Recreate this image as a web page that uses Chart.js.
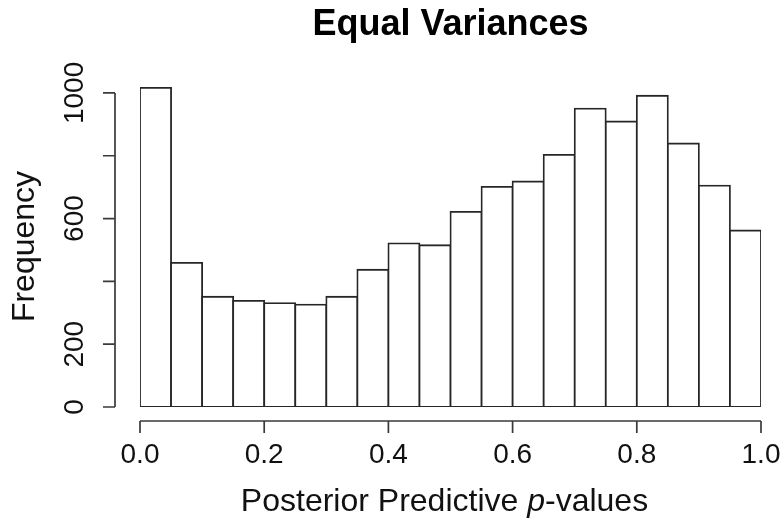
<!DOCTYPE html>
<html><head><meta charset="utf-8">
<script src="https://cdn.jsdelivr.net/npm/chart.js@4/dist/chart.umd.min.js"></script>
<style>html,body{margin:0;padding:0;background:#fff}#wrap{width:783px;height:520px}</style>
</head><body><div id="wrap"><canvas id="c" width="783" height="520"></canvas></div>
<script>
// ---- data ----
const chartTitle = 'Equal Variances';
const binCenters = [0.025,0.075,0.125,0.175,0.225,0.275,0.325,0.375,0.425,0.475,0.525,0.575,0.625,0.675,0.725,0.775,0.825,0.875,0.925,0.975];
const counts = [1016,459,351,338,331,326,351,437,521,515,621,701,718,803,950,909,991,839,705,562];
const xTickValues = [0,0.2,0.4,0.6,0.8,1.0];
const xTickLabels = ['0.0','0.2','0.4','0.6','0.8','1.0'];
const yTickValues = [0,200,400,600,800,1000];
const yTickLabels = ['0','200','','600','','1000'];
const xTitleParts = ['Posterior Predictive ', 'p', '-values'];
const yTitle = 'Frequency';

// ---- style ----
const FONT = '"Liberation Sans", Arial, Helvetica, sans-serif';
const TXT = '#111';
const LINE = '#3a3a3a';
const BW = 1.8;

const rAxes = {
  id: 'rAxes',
  afterDraw(chart) {
    const {ctx, chartArea: a, scales: {x, y}} = chart;
    ctx.save();
    ctx.strokeStyle = LINE;
    ctx.lineWidth = 1.7;
    ctx.lineCap = 'butt';
    ctx.beginPath();
    // x axis (R style, offset below plot)
    const ya = a.bottom + 14;
    const xs = xTickValues.map(v => x.getPixelForValue(v));
    ctx.moveTo(xs[0], ya); ctx.lineTo(xs[xs.length - 1], ya);
    xs.forEach(p => { ctx.moveTo(p, ya); ctx.lineTo(p, ya + 12); });
    // y axis
    const xa = a.left - 25;
    const ys = yTickValues.map(v => y.getPixelForValue(v));
    ctx.moveTo(xa, ys[0]); ctx.lineTo(xa, ys[ys.length - 1]);
    ys.forEach(p => { ctx.moveTo(xa, p); ctx.lineTo(xa - 12, p); });
    ctx.stroke();
    // x axis title with italic p
    const fonts = ['32px ' + FONT, 'italic 32px ' + FONT, '32px ' + FONT];
    const widths = xTitleParts.map((t, i) => { ctx.font = fonts[i]; return ctx.measureText(t).width; });
    const total = widths.reduce((s, w) => s + w, 0);
    let cx = (a.left + a.right) / 2 - 6 - total / 2;
    const base = a.bottom + 104;
    ctx.fillStyle = TXT;
    ctx.textBaseline = 'alphabetic';
    ctx.textAlign = 'left';
    xTitleParts.forEach((t, i) => { ctx.font = fonts[i]; ctx.fillText(t, cx, base); cx += widths[i]; });
    ctx.restore();
  }
};

new Chart(document.getElementById('c').getContext('2d'), {
  type: 'bar',
  data: {
    datasets: [{
      data: binCenters.map((x, i) => ({x: x, y: counts[i]})),
      backgroundColor: '#ffffff',
      borderColor: '#262626',
      borderWidth: BW,
      inflateAmount: BW / 2,
      borderSkipped: false,
      barPercentage: 1,
      categoryPercentage: 1
    }]
  },
  options: {
    responsive: false,
    animation: false,
    devicePixelRatio: 1,
    layout: {padding: {left: 0, right: 22, top: 0, bottom: 0}},
    plugins: {
      legend: {display: false},
      tooltip: {enabled: false},
      title: {
        display: true, text: chartTitle, fullSize: false, color: '#000',
        font: {family: FONT, size: 36, weight: 'bold'},
        padding: {top: 3, bottom: 39.8}
      }
    },
    scales: {
      x: {
        type: 'linear', min: 0, max: 1, offset: false,
        grid: {display: false, drawTicks: false, offset: false},
        border: {display: false},
        afterBuildTicks: (s) => { s.ticks = xTickValues.map(v => ({value: v})); },
        afterFit: (s) => { s.height = 113; s.paddingLeft = 0; s.paddingRight = 0; },
        ticks: {
          callback: (v, i) => xTickLabels[i],
          autoSkip: false, maxRotation: 0, minRotation: 0, padding: 31.5,
          color: TXT, font: {family: FONT, size: 28}
        }
      },
      y: {
        min: 0, max: 1022,
        grid: {display: false, drawTicks: false},
        border: {display: false},
        afterBuildTicks: (s) => { s.ticks = yTickValues.map(v => ({value: v})); },
        afterFit: (s) => { s.width = 140; s.paddingTop = 0; s.paddingBottom = 0; },
        ticks: {
          callback: (v, i) => yTickLabels[i],
          autoSkip: false, minRotation: 90, maxRotation: 90, crossAlign: 'center', padding: 33.4,
          color: TXT, font: {family: FONT, size: 28}
        },
        title: {
          display: true, text: yTitle, color: TXT,
          font: {family: FONT, size: 32},
          padding: {top: 5.7, bottom: 0}
        }
      }
    }
  },
  plugins: [rAxes]
});
</script>
</body></html>
